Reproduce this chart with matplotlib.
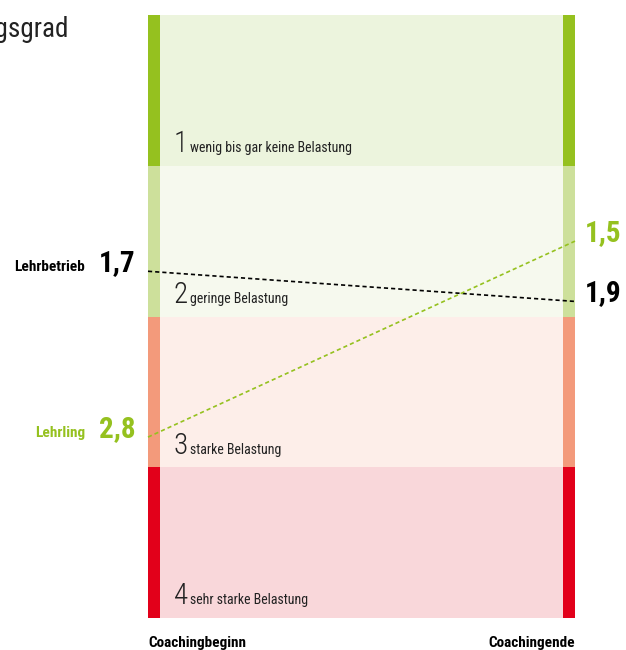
import matplotlib.pyplot as plt

# Belastungsgrad: 1 = wenig, 4 = sehr stark
levels = [1, 2, 3, 4]
level_labels = ['wenig bis gar keine Belastung', 'geringe Belastung',
                'starke Belastung', 'sehr starke Belastung']
band_colors = ['#ecf4dd', '#f6f9ee', '#fdeee9', '#f9d7da']
bar_colors = ['#95c11f', '#cde09b', '#f39a7b', '#e2001a']

groups = ['Lehrbetrieb', 'Lehrling']
start_vals = [1.7, 2.8]   # Coachingbeginn
end_vals = [1.9, 1.5]     # Coachingende
group_colors = ['#000000', '#95c11f']

plt.rcParams['font.family'] = ['Roboto Condensed', 'Archivo Narrow', 'DejaVu Sans']

fig = plt.figure(figsize=(6.26, 6.5), dpi=100)
ax = fig.add_axes([148/626, 32/650, 427/626, 603/650])
ax.set_xlim(0, 1)
ax.set_ylim(4, 0)
ax.axis('off')

bar_w = 12/427
for lv, lab, bc, sc in zip(levels, level_labels, band_colors, bar_colors):
    ax.barh(lv - 0.5, 1, height=1, left=0, color=bc, zorder=1)
    ax.barh(lv - 0.5, bar_w, height=1, left=0, color=sc, zorder=2)
    ax.barh(lv - 0.5, bar_w, height=1, left=1 - bar_w, color=sc, zorder=2)
    ax.text(0.06, lv - 0.09, str(lv), fontsize=21, color='#222222',
            fontweight='light', va='baseline', ha='left', zorder=4)
    ax.text(0.098, lv - 0.09, lab, fontsize=10, color='#222222',
            va='baseline', ha='left', zorder=4)

for g, s, e, c in zip(groups, start_vals, end_vals, group_colors):
    ax.plot([0, 1], [s, e], color=c, lw=1.2, ls=(0, (2.5, 1.8)), zorder=3,
            clip_on=False)
    ax.text(-0.03, s, f'{s:.1f}'.replace('.', ','), fontsize=21, color=c,
            fontweight='heavy', ha='right', va='baseline', clip_on=False)
    ax.text(-0.148, s, g, fontsize=11, color=c, fontweight='heavy',
            ha='right', va='baseline', clip_on=False)
    ax.text(1.023, e, f'{e:.1f}'.replace('.', ','), fontsize=21, color=c,
            fontweight='heavy', ha='left', va='baseline', clip_on=False)

ax.text(0, 4.19, 'Coachingbeginn', fontsize=11, fontweight='heavy',
        ha='left', va='baseline', clip_on=False)
ax.text(1, 4.19, 'Coachingende', fontsize=11, fontweight='heavy',
        ha='right', va='baseline', clip_on=False)

fig.text(69/626, 1 - 37/650, 'Belastungsgrad', fontsize=19.5, color='#222222',
         ha='right', va='baseline')

fig.savefig('out.png', dpi=100)
